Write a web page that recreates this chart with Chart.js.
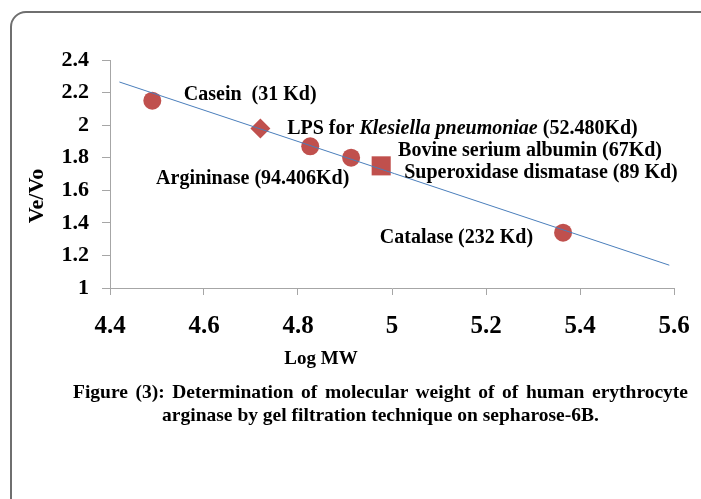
<!DOCTYPE html>
<html>
<head>
<meta charset="utf-8">
<script src="https://cdn.jsdelivr.net/npm/chart.js@4.4.1/dist/chart.umd.min.js"></script>
<style>
  html, body { margin:0; padding:0; background:#fff; }
  #wrap { position:relative; width:701px; height:499px; overflow:hidden; }
  #frame { position:absolute; left:10px; top:11px; width:800px; height:600px; border:2px solid #6f6f6f; border-radius:16px; }
  #cv { position:absolute; left:0; top:0; }
  .cap { position:absolute; font:bold 19.5px "Liberation Serif", "Times New Roman", serif; color:#000; line-height:23px; white-space:nowrap; }
  #cap1 { left:73px; top:380px; width:615px; text-align:justify; text-align-last:justify; white-space:normal; }
  #cap2 { left:73px; top:403px; width:615px; text-align:center; }
</style>
</head>
<body>
<div id="wrap">
  <div id="frame"></div>
  <canvas id="cv" width="701" height="499"></canvas>
  <div class="cap" id="cap1">Figure (3): Determination of molecular weight of of human erythrocyte</div>
  <div class="cap" id="cap2">arginase by gel filtration technique on sepharose-6B.</div>
</div>
<script>
/* gel filtration standard curve */
const circleX = [4.49, 4.826, 4.913, 5.364];
const circleY = [2.15, 1.87, 1.80, 1.34];
const diamondX = [4.72];
const diamondY = [1.98];
const squareX = [4.977];
const squareY = [1.75];
const trendX = [4.42, 5.59];
const trendY = [2.265, 1.14];
const xTicks = [4.4, 4.6, 4.8, 5, 5.2, 5.4, 5.6];
const yTicks = [1, 1.2, 1.4, 1.6, 1.8, 2, 2.2, 2.4];

const SERIF = '"Liberation Serif", "Times New Roman", serif';
const RED = "#c0504d";
const AXIS = "#a6a6a6";
const pts = (xs, ys) => xs.map((x, i) => ({x, y: ys[i]}));
const fmt = v => String(+(+v).toFixed(2));

// point labels, anchored in data units (left edge, vertical middle)
const notes = [
  {x: 4.557, y: 2.186, parts: [["Casein  (31 Kd)", ""]]},
  {x: 4.777, y: 1.978, parts: [["LPS for ", ""], ["Klesiella pneumoniae", "italic "], [" (52.480Kd)", ""]]},
  {x: 5.013, y: 1.844, parts: [["Bovine serium albumin (67Kd)", ""]]},
  {x: 5.026, y: 1.709, parts: [["Superoxidase dismatase (89 Kd)", ""]]},
  {x: 4.498, y: 1.672, parts: [["Argininase (94.406Kd)", ""]]},
  {x: 4.974, y: 1.306, parts: [["Catalase (232 Kd)", ""]]}
];

const textPlugin = {
  id: "texts",
  afterDatasetsDraw(chart){
    const {ctx, scales:{x, y}, chartArea} = chart;
    ctx.save();
    ctx.fillStyle = "#000";
    ctx.textBaseline = "middle";
    ctx.textAlign = "left";
    notes.forEach(n => {
      let px = x.getPixelForValue(n.x);
      const py = y.getPixelForValue(n.y);
      n.parts.forEach(([t, st]) => {
        ctx.font = st + "bold 20px " + SERIF;
        ctx.fillText(t, px, py);
        px += ctx.measureText(t).width;
      });
    });
    // axis titles
    ctx.font = "bold 22px " + SERIF;
    ctx.save();
    ctx.translate(37, chartArea.top + 136);
    ctx.rotate(-Math.PI / 2);
    ctx.textAlign = "center";
    ctx.fillText("Ve/Vo", 0, 0);
    ctx.restore();
    ctx.font = "bold 19px " + SERIF;
    ctx.textAlign = "center";
    ctx.fillText("Log MW", 321, chartArea.bottom + 71);
    ctx.restore();
  }
};

new Chart(document.getElementById("cv"), {
  type: "scatter",
  data: {
    datasets: [
      { label: "trend", data: pts(trendX, trendY), showLine: true, borderColor: "#4a7ebb", borderWidth: 1, pointRadius: 0 },
      { label: "circles", data: pts(circleX, circleY), pointStyle: "circle", pointRadius: 9, backgroundColor: RED, borderColor: RED, borderWidth: 0 },
      { label: "diamond", data: pts(diamondX, diamondY), pointStyle: "rectRot", pointRadius: 10, backgroundColor: RED, borderColor: RED, borderWidth: 0 },
      { label: "square", data: pts(squareX, squareY), pointStyle: "rect", pointRadius: 13.5, backgroundColor: RED, borderColor: RED, borderWidth: 0 }
    ]
  },
  options: {
    responsive: false,
    animation: false,
    devicePixelRatio: 1,
    layout: { padding: { left: 0, top: 60, right: 27, bottom: 151 } },
    plugins: { legend: { display: false }, tooltip: { enabled: false } },
    scales: {
      x: {
        type: "linear", min: xTicks[0], max: xTicks[xTicks.length - 1],
        afterBuildTicks: s => { s.ticks = xTicks.map(v => ({value: v})); },
        afterFit: s => { s.height = 60; s.paddingLeft = 0; s.paddingRight = 0; },
        grid: { drawOnChartArea: false, tickLength: 7, color: AXIS },
        border: { color: AXIS },
        ticks: { color: "#000", padding: 17, maxRotation: 0, callback: fmt, font: { family: SERIF, size: 25, weight: "bold" } }
      },
      y: {
        type: "linear", min: yTicks[0], max: yTicks[yTicks.length - 1],
        afterBuildTicks: s => { s.ticks = yTicks.map(v => ({value: v})); },
        afterFit: s => { s.width = 110; s.paddingTop = 0; s.paddingBottom = 0; },
        grid: { drawOnChartArea: false, tickLength: 8, color: AXIS },
        border: { color: AXIS },
        ticks: { color: "#000", padding: 13, callback: fmt, font: { family: SERIF, size: 22, weight: "bold" } }
      }
    }
  },
  plugins: [textPlugin]
});
</script>
</body>
</html>
